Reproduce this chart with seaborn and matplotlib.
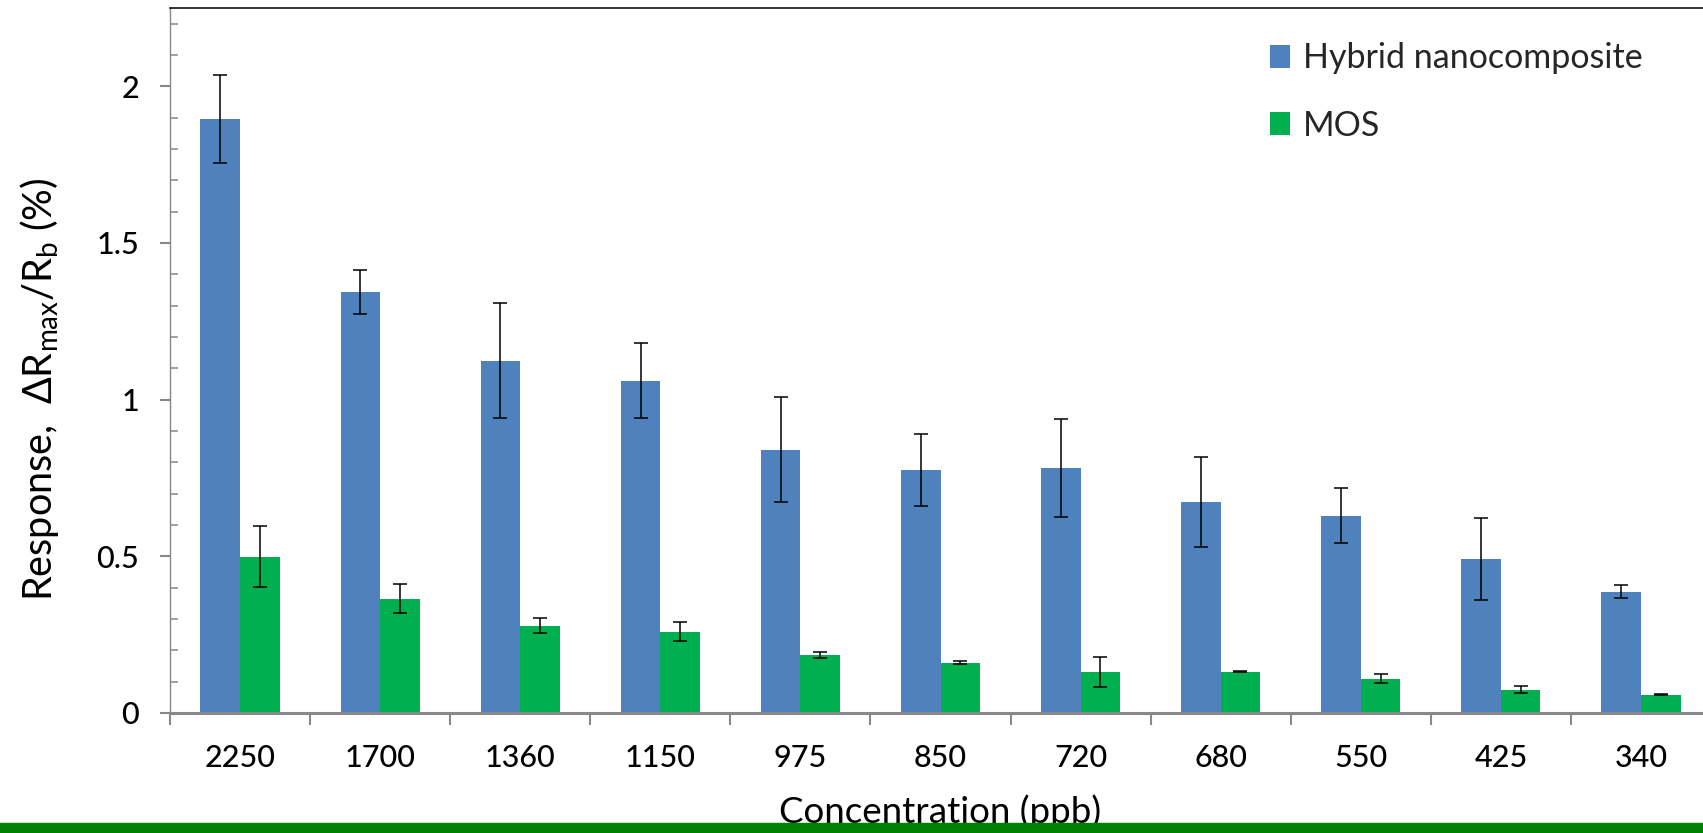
import matplotlib
matplotlib.use("Agg")
import matplotlib.pyplot as plt
from matplotlib.patches import Rectangle
from matplotlib.ticker import MultipleLocator, FixedLocator
import seaborn as sns
import pandas as pd

# values
concentrations = ["2250", "1700", "1360", "1150", "975", "850", "720", "680", "550", "425", "340"]
hybrid = [1.895, 1.345, 1.125, 1.060, 0.840, 0.775, 0.782, 0.674, 0.629, 0.492, 0.387]
hybrid_err = [0.140, 0.070, 0.183, 0.120, 0.168, 0.114, 0.157, 0.143, 0.088, 0.131, 0.020]
mos = [0.499, 0.365, 0.278, 0.259, 0.185, 0.161, 0.132, 0.132, 0.109, 0.075, 0.059]
mos_err = [0.097, 0.046, 0.024, 0.030, 0.011, 0.005, 0.048, 0.002, 0.014, 0.010, 0.002]
series = ["Hybrid nanocomposite", "MOS"]
colors = ["#4F81BD", "#00B050"]
yticks = [0, 0.5, 1, 1.5, 2]
ytick_labels = ["0", "0.5", "1", "1.5", "2"]

df = pd.DataFrame({
    "Concentration": concentrations * 2,
    "Sensor": [series[0]] * len(hybrid) + [series[1]] * len(mos),
    "Response": hybrid + mos,
})

sns.set_theme(style="ticks")
plt.rcParams["font.family"] = ["Lato", "DejaVu Sans"]
plt.rcParams["mathtext.fontset"] = "custom"
plt.rcParams["mathtext.rm"] = "Lato"
plt.rcParams["mathtext.it"] = "Lato:italic"
grey = "#888888"

W, H = 1703, 833
fig = plt.figure(figsize=(W / 100, H / 100), dpi=100)
ax = fig.add_axes([170 / W, 120 / H, 1541 / W, 705 / H])

sns.barplot(data=df, x="Concentration", y="Response", hue="Sensor",
            order=concentrations, hue_order=series, palette=colors,
            saturation=1, width=0.565, errorbar=None, linewidth=0, ax=ax)

# error bars on top of the seaborn bars
for cont, errs in zip(ax.containers, [hybrid_err, mos_err]):
    xs = [p.get_x() + p.get_width() / 2 for p in cont]
    ys = [p.get_height() for p in cont]
    ax.errorbar(xs, ys, yerr=errs, fmt="none", ecolor="black",
                elinewidth=1.1, capsize=4.7, capthick=1.1, zorder=3)

ax.set_xlim(-0.5, 10.5)
ax.set_ylim(0, 2.25)
ax.set_yticks(yticks)
ax.set_yticklabels(ytick_labels)
ax.yaxis.set_minor_locator(MultipleLocator(0.1))
ax.xaxis.set_minor_locator(FixedLocator([i - 0.5 for i in range(len(concentrations) + 1)]))

ax.tick_params(axis="x", which="major", length=0, pad=22, labelsize=22, labelcolor="black")
ax.tick_params(axis="x", which="minor", direction="out", length=8.6, width=1.5, color=grey)
ax.tick_params(axis="y", which="major", direction="out", length=7.2, width=1.5,
               color=grey, pad=15, labelsize=22, labelcolor="black")
ax.tick_params(axis="y", which="minor", direction="in", length=5.8, width=1.1, color=grey)
for lbl in ax.get_xticklabels() + ax.get_yticklabels():
    lbl.set_fontweight("medium")

ax.spines["right"].set_visible(False)
ax.spines["top"].set_color("black")
ax.spines["top"].set_linewidth(1.1)
ax.spines["left"].set_color(grey)
ax.spines["left"].set_linewidth(1.0)
ax.spines["bottom"].set_color(grey)
ax.spines["bottom"].set_linewidth(2.2)

ax.set_xlabel("Concentration (ppb)", fontsize=26.5, color="black")
ax.xaxis.set_label_coords(0.5, -0.156)
ax.xaxis.label.set_va("baseline")
ax.set_ylabel(r"Response,  ΔR$_{\mathrm{max}}$/R$_{\mathrm{b}}$ (%)", fontsize=28.5, color="black")
ax.yaxis.set_label_coords(-0.0844, 0.46)
ax.yaxis.label.set_va("center")

handles, labels = ax.get_legend_handles_labels()
ax.legend(handles, labels, loc="upper left", bbox_to_anchor=(1270 / W, 1 - 42 / H),
          bbox_transform=fig.transFigure, frameon=False, fontsize=24.5,
          handlelength=0.58, handleheight=0.66, handletextpad=0.4,
          labelspacing=1.05, borderpad=0, borderaxespad=0)

# green strip along the bottom edge
fig.add_artist(Rectangle((0, 0), 1, 10 / H, transform=fig.transFigure,
                         color="#008000", zorder=10))

fig.savefig("out.png", dpi=100)
